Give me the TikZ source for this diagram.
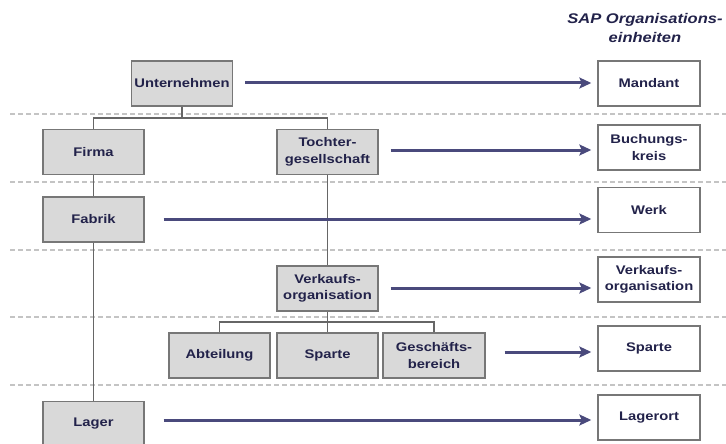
\documentclass[tikz,border=0pt]{standalone}
\usepackage{fontspec}
\setmainfont{Liberation Sans}[FakeStretch=1.18]
\usetikzlibrary{arrows.meta}
\definecolor{txt}{HTML}{22224A}
\definecolor{boxfill}{HTML}{D9D9D9}
\definecolor{boxdraw}{HTML}{777777}
\definecolor{arrcol}{HTML}{4A4A7C}
\definecolor{treecol}{HTML}{666666}
\definecolor{dashcol}{HTML}{C4C4C4}
\begin{document}
\begin{tikzpicture}[x=1pt,y=-1pt,
  orgbox/.style={draw=boxdraw,line width=1.4pt,fill=boxfill,minimum width=101pt,minimum height=45pt,
    inner sep=0pt,align=center,text=txt,font=\fontsize{12.5}{16.5}\selectfont\bfseries},
  sapbox/.style={orgbox,fill=white},
  arr/.style={draw=arrcol,line width=3pt,-{Stealth[length=12pt,width=11pt,inset=2.5pt]},shorten >=6pt},
  tree/.style={draw=treecol,line width=1.2pt},
  sep/.style={draw=dashcol,line width=1.1pt,dash pattern=on 5pt off 3pt}]
\useasboundingbox (0,0) rectangle (726,444);
% dashed separators
\foreach \yy in {114,182,250,317,385}
  \draw[sep] (10,\yy) -- (726,\yy);
% header
\node[text=txt,align=center,font=\fontsize{14}{19}\selectfont\bfseries\itshape] (hdr) at (645,28) {SAP Organisations-\\einheiten};
% left org boxes
\node[orgbox] (U) at (182,83.5) {Unternehmen};
\node[orgbox] (F) at (93.5,152) {Firma};
\node[orgbox] (T) at (327.5,152) {Tochter-\\gesellschaft};
\node[orgbox] (Fa) at (93.5,219.5) {Fabrik};
\node[orgbox] (VO) at (327.5,288.5) {Verkaufs-\\organisation};
\node[orgbox] (A) at (219.5,355.5) {Abteilung};
\node[orgbox] (S) at (327.5,355.5) {Sparte};
\node[orgbox,minimum width=102pt] (G) at (434,355.5) {Geschäfts-\\bereich};
\node[orgbox] (L) at (93.5,424) {Lager};
% SAP boxes
\node[sapbox,minimum width=102pt] (M) at (649,83.5) {Mandant};
\node[sapbox,minimum width=102pt] (B) at (649,147.5) {Buchungs-\\kreis};
\node[sapbox,minimum width=102pt] (W) at (649,210) {Werk};
\node[sapbox,minimum width=102pt] (VR) at (649,279.5) {Verkaufs-\\organisation};
\node[sapbox,minimum width=102pt] (SR) at (649,348.5) {Sparte};
\node[sapbox,minimum width=102pt] (LO) at (649,417.5) {Lagerort};
% tree lines
\coordinate (j1) at (182,118);
\draw[tree] (U.south) -- (j1);
\draw[tree] (F.north) |- (j1) -| (T.north);
\draw[tree] (F.south) -- (Fa.north);
\draw[tree] (Fa.south) -- (L.north);
\draw[tree] (T.south) -- (VO.north);
\coordinate (j2) at (327.5,322);
\draw[tree] (VO.south) -- (S.north);
\draw[tree] (A.north) |- (j2) -| (G.north);
% arrows
\draw[arr] ([xshift=12pt]U.east |- 0,83) -- (M.west |- 0,83);
\draw[arr] ([xshift=12pt]T.east |- 0,150) -- (B.west |- 0,150);
\draw[arr] ([xshift=19pt]Fa.east |- 0,219) -- (W.west |- 0,219);
\draw[arr] ([xshift=12pt]VO.east |- 0,288) -- (VR.west |- 0,288);
\draw[arr] ([xshift=19pt]G.east |- 0,352) -- (SR.west |- 0,352);
\draw[arr] ([xshift=19pt]L.east |- 0,420) -- (LO.west |- 0,420);
\end{tikzpicture}
\end{document}
